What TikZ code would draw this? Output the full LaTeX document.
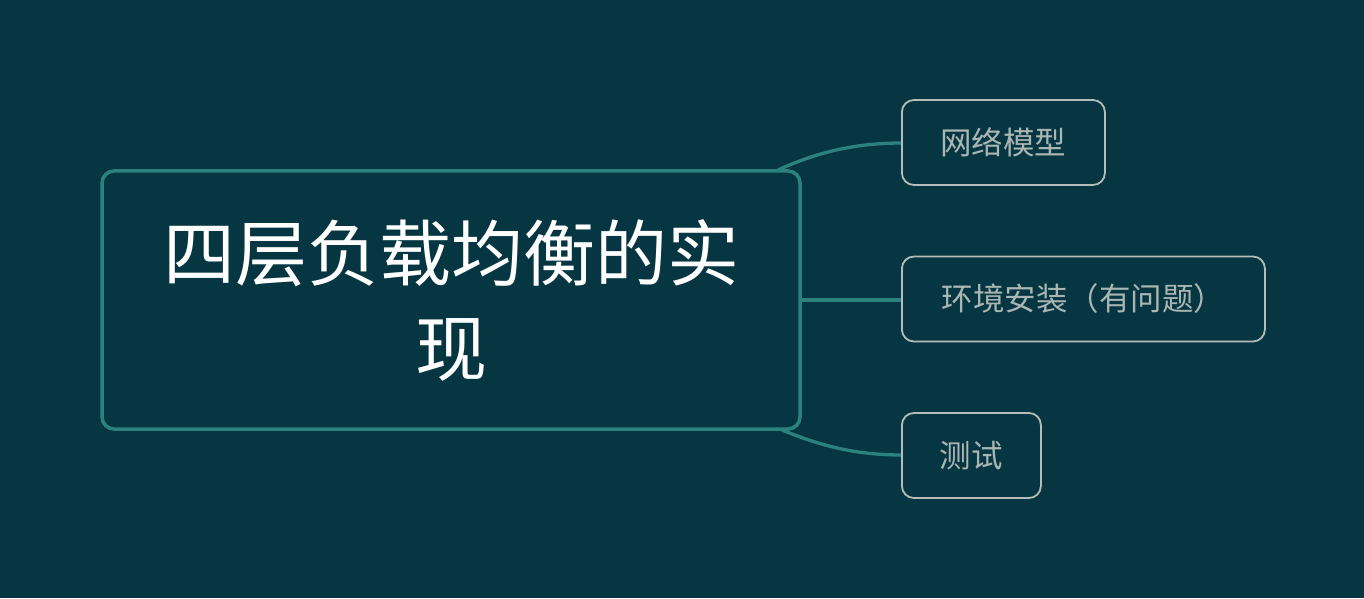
\documentclass[tikz,border=0pt]{standalone}
\usepackage{fontspec}
\newfontfamily\cjk{Noto Sans CJK SC}
\definecolor{bgc}{HTML}{063641}
\definecolor{teal}{HTML}{2B827D}
\definecolor{edgec}{HTML}{B4BDB9}
\definecolor{txtc}{HTML}{A9B6B3}
\begin{document}
\begin{tikzpicture}[x=1pt,y=1pt,
  root/.style={draw=teal,line width=3.5pt,rounded corners=12pt,fill=bgc,
    minimum width=698pt,minimum height=258pt,inner sep=0pt,
    align=center,text=white,font=\cjk\fontsize{72}{95}\selectfont},
  topic/.style={draw=edgec,line width=1.8pt,rounded corners=12pt,fill=bgc,
    minimum height=85pt,inner sep=0pt,anchor=west,
    text=txtc,font=\cjk\fontsize{31.5}{36}\selectfont},
  link/.style={draw=teal,line width=3.3pt}]
\fill[bgc] (0,0) rectangle (1364,598);
\useasboundingbox (0,0) rectangle (1364,598);
\coordinate (t1) at (778,428);
\coordinate (t3) at (782,168);
\draw[link] (t1) .. controls (822,448) and (860,455) .. (903,455);
\draw[link] (t3) .. controls (826,150) and (860,143) .. (903,143);
\node[root] (c) at (451,298) {四层负载均衡的实\\现};
\node[topic,minimum width=203pt] (n1) at (901,455.5) {网络模型};
\node[topic,minimum width=363pt] (n2) at (901,299) {环境安装（有问题）};
\node[topic,minimum width=139pt] (n3) at (901,142.5) {测试};
\draw[link] (c.east) -- (c.east -| n2.west);
\end{tikzpicture}
\end{document}
